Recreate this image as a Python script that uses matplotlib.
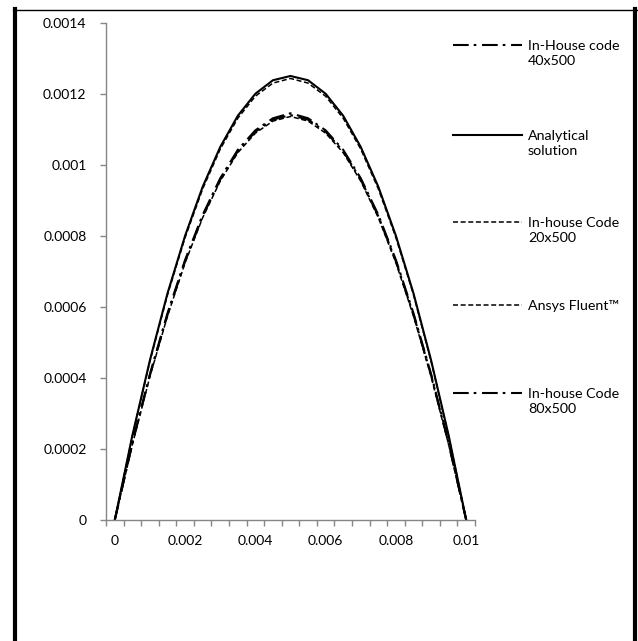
import matplotlib
matplotlib.use("Agg")
import matplotlib.pyplot as plt
from matplotlib.lines import Line2D
from matplotlib.ticker import FixedLocator, NullFormatter

plt.rcParams['font.family'] = ['Lato', 'DejaVu Sans']
plt.rcParams['lines.scale_dashes'] = False

# x positions (categories in the original spreadsheet chart)
x = [0, 0.0005, 0.001, 0.0015, 0.002, 0.0025, 0.003, 0.0035, 0.004, 0.0045, 0.005,
     0.0055, 0.006, 0.0065, 0.007, 0.0075, 0.008, 0.0085, 0.009, 0.0095, 0.01]

code_40x500 = [0, 0.000215, 0.000408, 0.000578, 0.000728, 0.000855, 0.000958, 0.001038, 0.001093, 0.001127, 0.00114,
               0.001127, 0.001093, 0.001038, 0.000958, 0.000855, 0.000728, 0.000578, 0.000408, 0.000215, 0]
analytical = [0, 0.000238, 0.00045, 0.000638, 0.0008, 0.000938, 0.00105, 0.001138, 0.0012, 0.001238, 0.00125,
              0.001238, 0.0012, 0.001138, 0.00105, 0.000938, 0.0008, 0.000638, 0.00045, 0.000238, 0]
code_20x500 = [0, 0.000212, 0.000404, 0.000574, 0.000724, 0.000851, 0.000954, 0.001034, 0.001089, 0.001123, 0.001136,
               0.001123, 0.001089, 0.001034, 0.000954, 0.000851, 0.000724, 0.000574, 0.000404, 0.000212, 0]
fluent = [0, 0.000236, 0.000447, 0.000634, 0.000795, 0.000932, 0.001044, 0.001131, 0.001193, 0.00123, 0.001243,
          0.00123, 0.001193, 0.001131, 0.001044, 0.000932, 0.000795, 0.000634, 0.000447, 0.000236, 0]
code_80x500 = [0, 0.000218, 0.000411, 0.000582, 0.000732, 0.000859, 0.000962, 0.001042, 0.001097, 0.001131, 0.001145,
               0.001131, 0.001097, 0.001042, 0.000962, 0.000859, 0.000732, 0.000582, 0.000411, 0.000218, 0]

labels = ['In-House code\n40x500', 'Analytical\nsolution', 'In-house Code\n20x500',
          'Ansys Fluent\u2122', 'In-house Code\n80x500']
series = [code_40x500, analytical, code_20x500, fluent, code_80x500]

dashdot = (0, (11.3, 3.6, 1.9, 4.1))
dashed = (0, (3.6, 1.9))
styles = [(dashdot, 1.5), ('-', 1.5), (dashed, 1.1), (dashed, 1.1), (dashdot, 1.5)]

yticks = [0, 0.0002, 0.0004, 0.0006, 0.0008, 0.001, 0.0012, 0.0014]
ylabels = ['0', '0.0002', '0.0004', '0.0006', '0.0008', '0.001', '0.0012', '0.0014']
xticks = [0, 0.002, 0.004, 0.006, 0.008, 0.01]
xlabels = ['0', '0.002', '0.004', '0.006', '0.008', '0.01']

W, H = 638, 641
fig = plt.figure(figsize=(W / 100, H / 100), dpi=100)
ax = fig.add_axes([106 / W, 1 - 520 / H, (475 - 106) / W, (520 - 22.7) / H])

for y, (ls, lw) in zip(series, styles):
    ax.plot(x, y, color='black', linestyle=ls, linewidth=lw)

ax.set_xlim(-0.00025, 0.01025)
ax.set_ylim(0, 0.0014)

grey = '#868686'
for s in ['top', 'right']:
    ax.spines[s].set_visible(False)
for s in ['left', 'bottom']:
    ax.spines[s].set_color(grey)
    ax.spines[s].set_linewidth(1.0)

ax.set_yticks(yticks)
ax.set_yticklabels(ylabels)
ax.set_xticks(xticks)
ax.set_xticklabels(xlabels)
ax.xaxis.set_minor_locator(FixedLocator([-0.00025 + 0.0005 * k for k in range(22)]))
ax.xaxis.set_minor_formatter(NullFormatter())
ax.tick_params(axis='x', which='major', length=0, pad=11, labelsize=10)
ax.tick_params(axis='x', which='minor', length=4, width=1.0, color=grey, direction='out')
ax.tick_params(axis='y', which='major', length=4, width=1.0, color=grey, pad=10, labelsize=10)

# legend drawn by hand to match the spreadsheet layout
leg_y = [45, 135, 222, 305, 393]
for (ls, lw), lab, yy in zip(styles, labels, leg_y):
    fy = 1 - yy / H
    fig.add_artist(Line2D([453 / W, 522 / W], [fy, fy], color='black', linestyle=ls, linewidth=lw))
    fig.text(528 / W, 1 - (yy - 5) / H, lab, ha='left', va='top', fontsize=10.3, linespacing=1.3)

# chart frame
fig.add_artist(Line2D([13 / W, 637 / W], [1 - 9.5 / H] * 2, color='black', linewidth=1))
fig.add_artist(Line2D([15 / W] * 2, [0, 1 - 9 / H], color='black', linewidth=3))
fig.add_artist(Line2D([635 / W] * 2, [0, 1 - 9 / H], color='black', linewidth=3))

fig.savefig('out.png', dpi=100)
